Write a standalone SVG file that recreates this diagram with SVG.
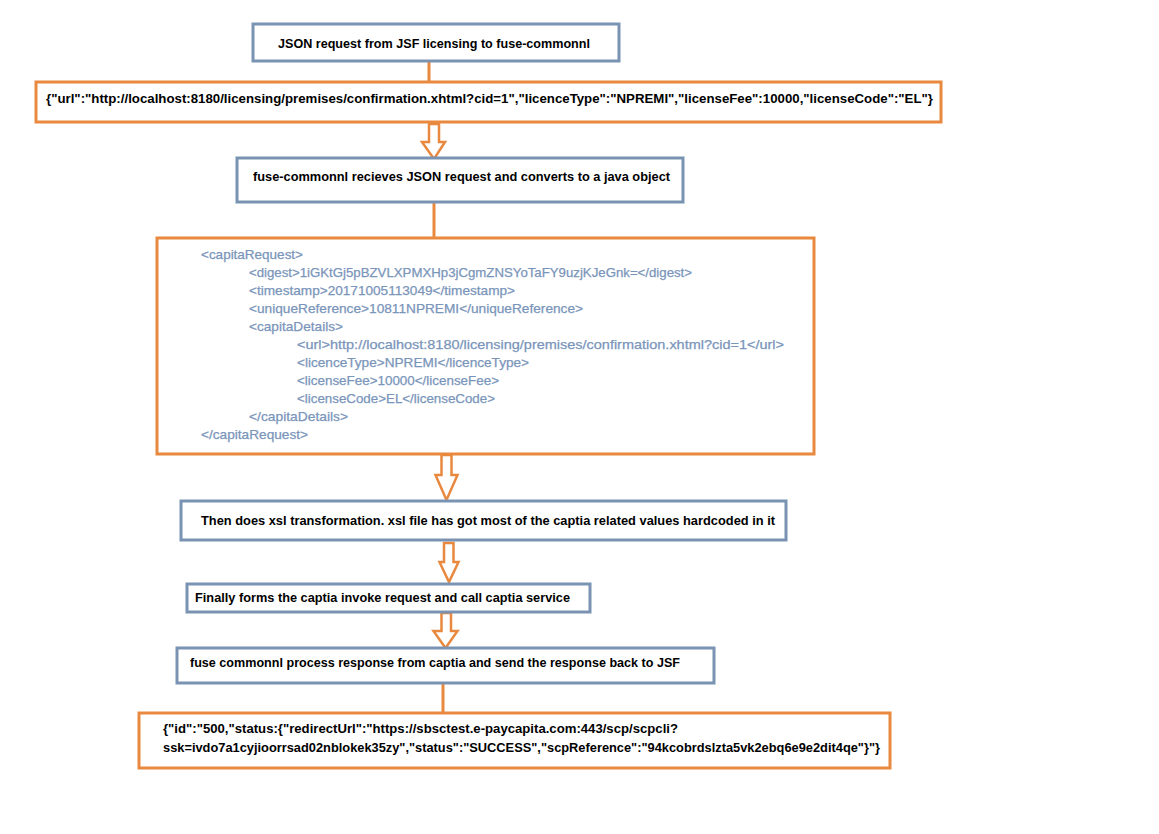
<svg xmlns="http://www.w3.org/2000/svg" width="1159" height="834" viewBox="0 0 1159 834">
<style>
.bb{fill:#ffffff;stroke:#7a93b3;stroke-width:3}
.ob{fill:#ffffff;stroke:#e8893f;stroke-width:3}
.lbl{font-family:"Liberation Sans",Arial,sans-serif;font-size:13.5px;font-weight:bold;fill:#000000}
.xml{font-family:"Liberation Sans",Arial,sans-serif;font-size:13px;fill:#7a95ba;stroke:#7a95ba;stroke-width:0.25}
.ln{stroke:#e8893f;stroke-width:3;fill:none}
.ar{fill:#ffffff;stroke:#e8893f;stroke-width:2.5;stroke-linejoin:miter}
</style>
<rect width="1159" height="834" fill="#ffffff"/>
<g id="connectors">
<line class="ln" x1="429" y1="61" x2="429" y2="82"/>
<line class="ln" x1="434" y1="202" x2="434" y2="238"/>
<line class="ln" x1="443" y1="683" x2="443" y2="713"/>
<path class="ar" d="M429,124 L439,124 L439,142 L445,142 L434,159 L422,142 L429,142 Z"/>
<path class="ar" d="M441.5,455 L451.5,455 L451.5,475 L457.5,475 L446.5,500 L435.5,475 L441.5,475 Z"/>
<path class="ar" d="M444,543 L453.5,543 L453.5,562 L458.5,562 L449,582 L439.5,562 L444,562 Z"/>
<path class="ar" d="M441.5,613 L451,613 L451,631 L457.5,631 L445.5,648 L433.5,631 L441.5,631 Z"/>
</g>
<g id="node1">
<rect class="bb" x="253" y="24" width="366" height="37"/>
<text class="lbl" x="278" y="47.5" textLength="312" lengthAdjust="spacingAndGlyphs">JSON request from JSF licensing to fuse-commonnl</text>
</g>
<g id="node2">
<rect class="ob" x="36" y="82" width="905" height="40"/>
<text class="lbl" x="46" y="103" textLength="887" lengthAdjust="spacingAndGlyphs">{"url":"http://localhost:8180/licensing/premises/confirmation.xhtml?cid=1","licenceType":"NPREMI","licenseFee":10000,"licenseCode":"EL"}</text>
</g>
<g id="node3">
<rect class="bb" x="237" y="158" width="446" height="44"/>
<text class="lbl" x="253" y="181" textLength="417" lengthAdjust="spacingAndGlyphs">fuse-commonnl recieves JSON request and converts to a java object</text>
</g>
<g id="node4">
<rect class="ob" x="157" y="238" width="657" height="216"/>
<text class="xml" x="201" y="258.5" textLength="102" lengthAdjust="spacingAndGlyphs">&lt;capitaRequest&gt;</text>
<text class="xml" x="249" y="276.5" textLength="443" lengthAdjust="spacingAndGlyphs">&lt;digest&gt;1iGKtGj5pBZVLXPMXHp3jCgmZNSYoTaFY9uzjKJeGnk=&lt;/digest&gt;</text>
<text class="xml" x="249" y="294.5" textLength="266" lengthAdjust="spacingAndGlyphs">&lt;timestamp&gt;20171005113049&lt;/timestamp&gt;</text>
<text class="xml" x="249" y="312.5" textLength="334" lengthAdjust="spacingAndGlyphs">&lt;uniqueReference&gt;10811NPREMI&lt;/uniqueReference&gt;</text>
<text class="xml" x="249" y="330.5" textLength="94" lengthAdjust="spacingAndGlyphs">&lt;capitaDetails&gt;</text>
<text class="xml" x="297" y="348.5" textLength="487" lengthAdjust="spacingAndGlyphs">&lt;url&gt;http://localhost:8180/licensing/premises/confirmation.xhtml?cid=1&lt;/url&gt;</text>
<text class="xml" x="297" y="366.5" textLength="232" lengthAdjust="spacingAndGlyphs">&lt;licenceType&gt;NPREMI&lt;/licenceType&gt;</text>
<text class="xml" x="297" y="384.5" textLength="202" lengthAdjust="spacingAndGlyphs">&lt;licenseFee&gt;10000&lt;/licenseFee&gt;</text>
<text class="xml" x="297" y="402.5" textLength="198" lengthAdjust="spacingAndGlyphs">&lt;licenseCode&gt;EL&lt;/licenseCode&gt;</text>
<text class="xml" x="249" y="420.5" textLength="99" lengthAdjust="spacingAndGlyphs">&lt;/capitaDetails&gt;</text>
<text class="xml" x="201" y="438.5" textLength="107" lengthAdjust="spacingAndGlyphs">&lt;/capitaRequest&gt;</text>
</g>
<g id="node5">
<rect class="bb" x="181" y="501" width="605" height="39"/>
<text class="lbl" x="201" y="525" textLength="574" lengthAdjust="spacingAndGlyphs">Then does xsl transformation. xsl file has got most of the captia related values hardcoded in it</text>
</g>
<g id="node6">
<rect class="bb" x="187" y="584" width="403" height="28"/>
<text class="lbl" x="195" y="602" textLength="375" lengthAdjust="spacingAndGlyphs">Finally forms the captia invoke request and call captia service</text>
</g>
<g id="node7">
<rect class="bb" x="177" y="648" width="537" height="35"/>
<text class="lbl" x="190" y="667" textLength="490" lengthAdjust="spacingAndGlyphs">fuse commonnl process response from captia and send the response back to JSF</text>
</g>
<g id="node8">
<rect class="ob" x="139" y="713" width="751" height="55"/>
<text class="lbl" x="163" y="733" textLength="515" lengthAdjust="spacingAndGlyphs">{"id":"500,"status:{"redirectUrl":"https://sbsctest.e-paycapita.com:443/scp/scpcli?</text>
<text class="lbl" x="163" y="752" textLength="717" lengthAdjust="spacingAndGlyphs">ssk=ivdo7a1cyjioorrsad02nblokek35zy","status":"SUCCESS","scpReference":"94kcobrdslzta5vk2ebq6e9e2dit4qe"}"}</text>
</g>
</svg>
